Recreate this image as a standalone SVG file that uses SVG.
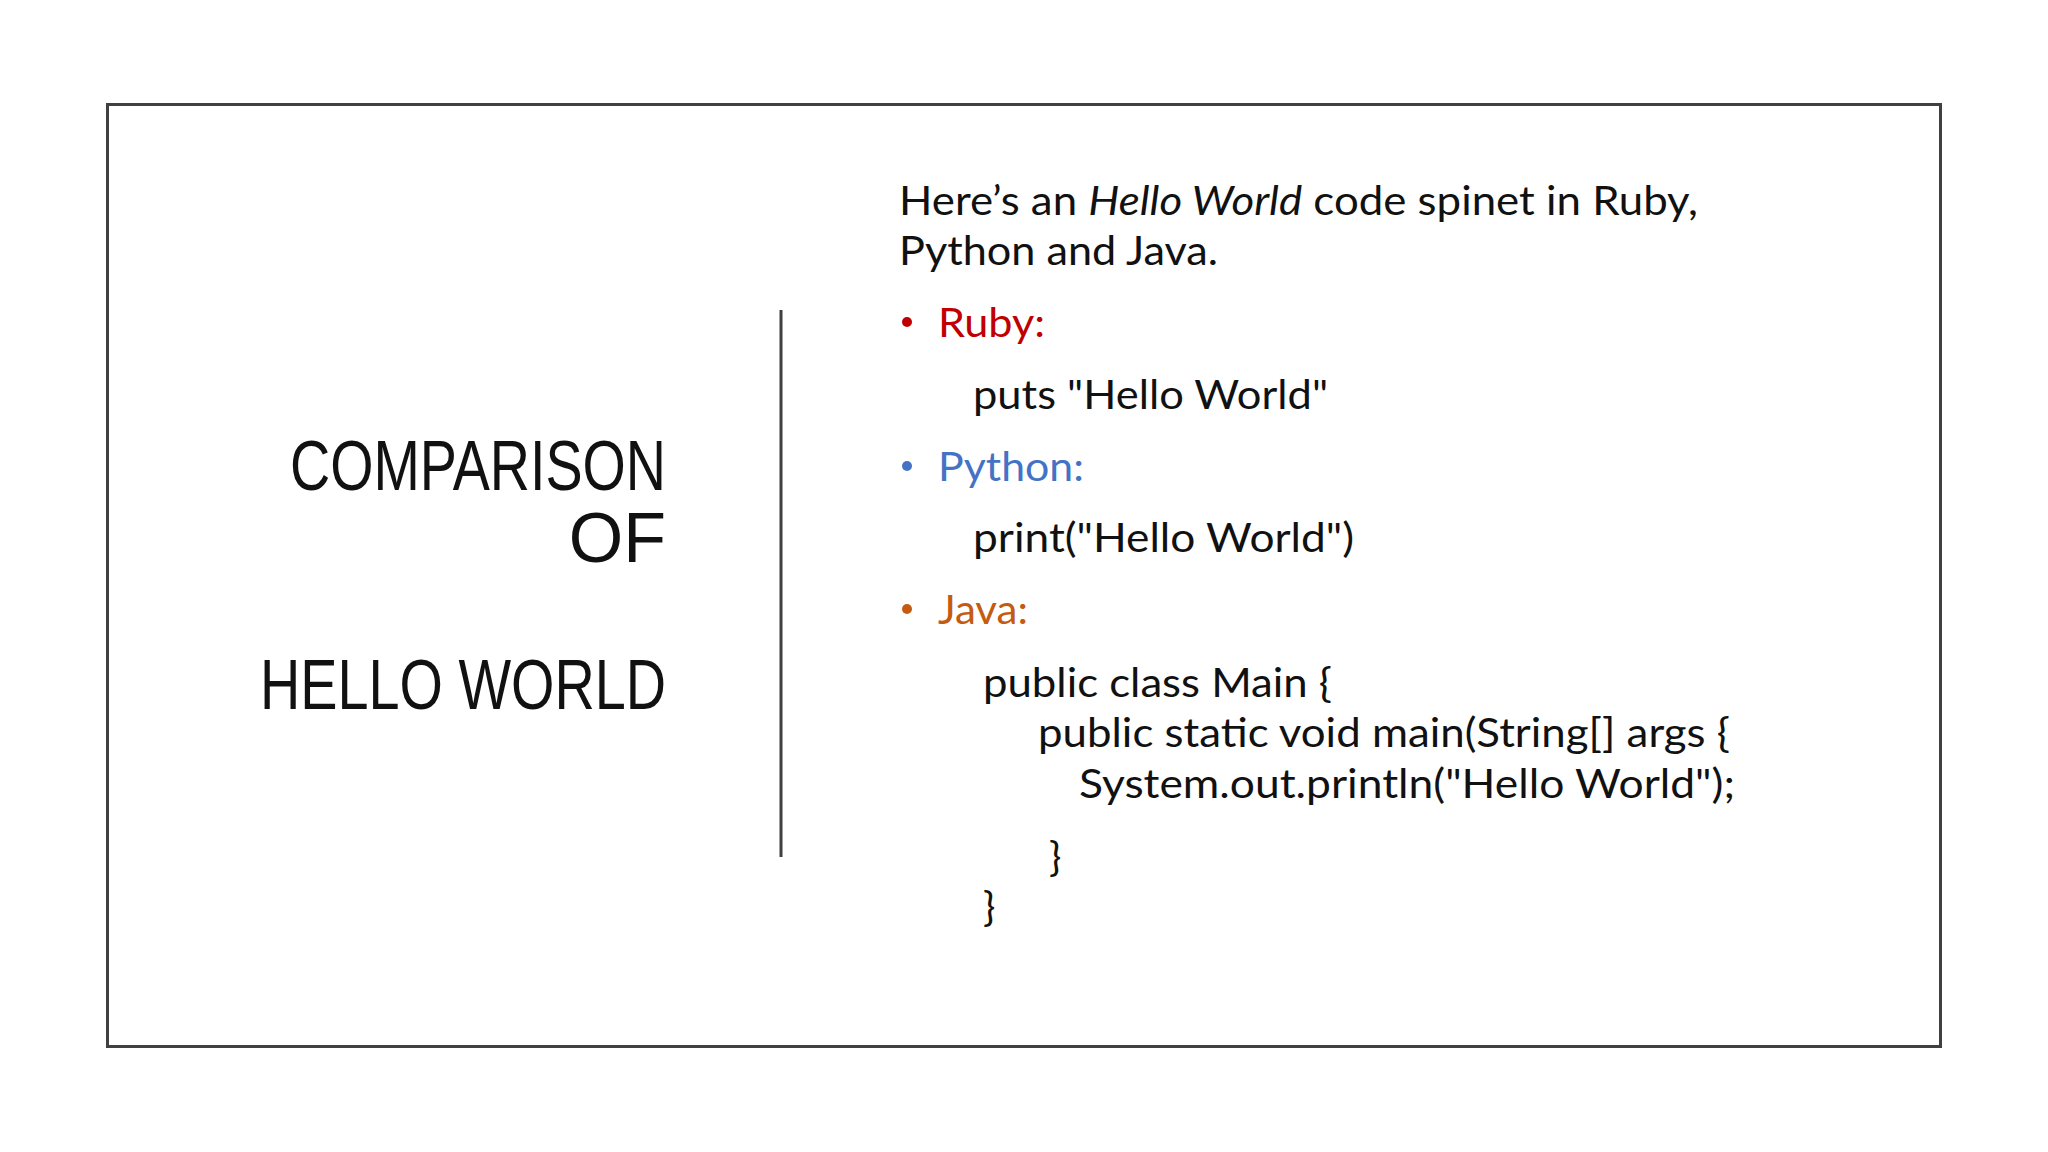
<svg xmlns="http://www.w3.org/2000/svg" width="2048" height="1152" viewBox="0 0 2048 1152">
<style>
.t{font-family:"Liberation Sans Narrow","Liberation Sans",sans-serif;font-size:70px;fill:#111;text-anchor:end}
.b{font-family:Lato,"Open Sans",sans-serif;font-size:41px;fill:#111}
</style>
<rect width="2048" height="1152" fill="#fff"/>
<rect x="107.5" y="104.5" width="1833" height="942" fill="none" stroke="#404040" stroke-width="3"/>
<line x1="781" y1="310" x2="781" y2="857" stroke="#404040" stroke-width="3"/>
<g id="title">
<text class="t" x="666" y="490" textLength="376" lengthAdjust="spacingAndGlyphs">COMPARISON</text>
<text class="t" x="666" y="562">OF</text>
<text class="t" x="666" y="709" textLength="406" lengthAdjust="spacingAndGlyphs">HELLO WORLD</text>
</g>
<g id="body">
<text class="b" x="899" y="215" textLength="799" lengthAdjust="spacingAndGlyphs">Here’s an <tspan font-style="italic">Hello World</tspan> code spinet in Ruby,</text>
<text class="b" x="899" y="265" textLength="319" lengthAdjust="spacingAndGlyphs">Python and Java.</text>
<circle cx="907" cy="322" r="5" fill="#C00000"/>
<text class="b" x="938" y="337" fill="#C00000" style="fill:#C00000" textLength="107" lengthAdjust="spacingAndGlyphs">Ruby:</text>
<text class="b" x="973" y="409" textLength="355" lengthAdjust="spacingAndGlyphs">puts "Hello World"</text>
<circle cx="907" cy="466" r="5" fill="#4472C4"/>
<text class="b" x="938" y="481" style="fill:#4472C4" textLength="146" lengthAdjust="spacingAndGlyphs">Python:</text>
<text class="b" x="973" y="552" textLength="381" lengthAdjust="spacingAndGlyphs">print("Hello World")</text>
<circle cx="907" cy="609" r="5" fill="#C55A11"/>
<text class="b" x="938" y="624" style="fill:#C55A11" textLength="90" lengthAdjust="spacingAndGlyphs">Java:</text>
<text class="b" x="983" y="697" textLength="349" lengthAdjust="spacingAndGlyphs">public class Main {</text>
<text class="b" x="1038" y="747" textLength="692" lengthAdjust="spacingAndGlyphs">public static void main(String[] args {</text>
<text class="b" x="1079" y="798" textLength="656" lengthAdjust="spacingAndGlyphs">System.out.println("Hello World");</text>
<text class="b" x="1049" y="871">}</text>
<text class="b" x="983" y="921">}</text>
</g>
</svg>
